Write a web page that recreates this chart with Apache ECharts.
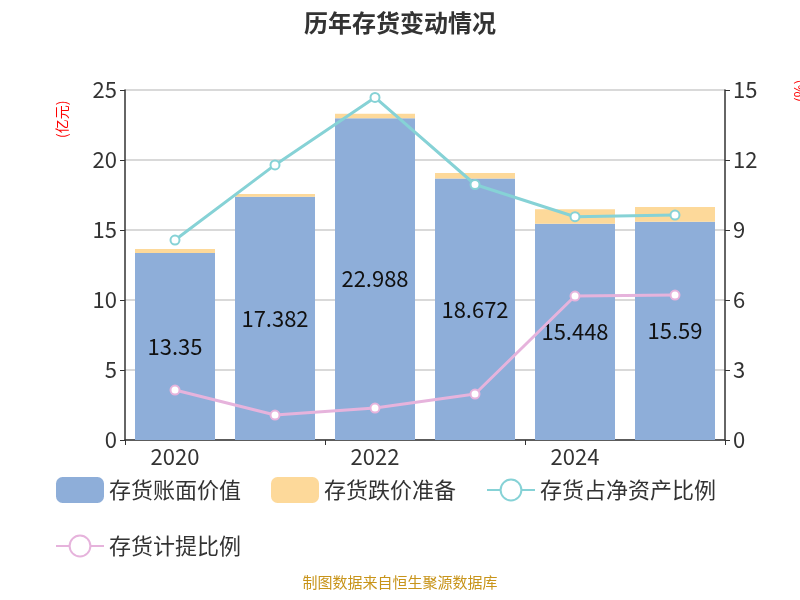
<!DOCTYPE html>
<html><head><meta charset="utf-8">
<script src="https://cdn.jsdelivr.net/npm/echarts@6/dist/echarts.min.js"></script>
<style>html,body{margin:0;padding:0}#c{width:800px;height:600px}</style>
</head><body><div id="c"></div>
<script>
const categories=['2020','2021','2022','2023','2024','2025H1'];
const bookValue=[13.35,17.382,22.988,18.672,15.448,15.59];
const reserve=[0.29,0.19,0.32,0.40,1.03,1.05];
const ratioNetAsset=[8.57,11.79,14.68,10.95,9.57,9.64];
const provisionRatio=[2.14,1.07,1.37,1.97,6.17,6.21];
const chart=echarts.init(document.getElementById('c'));
const ff='"Noto Sans CJK SC","Noto Sans",sans-serif';
chart.setOption({
 textStyle:{fontFamily:ff},
 title:{text:'历年存货变动情况',left:'center',top:6,textStyle:{fontSize:24,fontWeight:'bold',color:'#333',fontFamily:ff}},
 graphic:[{type:'text',left:'center',bottom:10,style:{text:'制图数据来自恒生聚源数据库',fill:'#c8941a',fontSize:15,fontFamily:ff}},
  {type:'text',x:55,y:138,rotation:Math.PI/2,style:{text:'(亿元)',fill:'red',fontSize:14,fontFamily:ff}},
  {type:'text',x:793,y:102,rotation:Math.PI/2,style:{text:'(%)',fill:'red',fontSize:14,fontFamily:ff}}],
 legend:{left:50,right:20,top:472,itemWidth:48,itemHeight:26,itemGap:30,textStyle:{fontSize:22,color:'#333'},
   data:['存货账面价值','存货跌价准备','存货占净资产比例','存货计提比例']},
 grid:{left:125,right:75,top:90,bottom:160},
 xAxis:{type:'category',data:categories,axisLine:{lineStyle:{color:'#333',width:1.5}},axisTick:{show:true,lineStyle:{color:'#333'}},
   axisLabel:{fontSize:22,color:'#333',margin:6}},
 yAxis:[{type:'value',min:0,max:25,interval:5,
   axisLine:{show:true,lineStyle:{color:'#333',width:1.5}},axisTick:{show:true},axisLabel:{fontSize:22,color:'#333'},
   splitLine:{lineStyle:{color:'#ccc',width:1.5}}},
  {type:'value',min:0,max:15,interval:3,
   axisLine:{show:true,lineStyle:{color:'#333',width:1.5}},axisTick:{show:true},axisLabel:{fontSize:22,color:'#333'},splitLine:{show:false}}],
 series:[
  {name:'存货账面价值',type:'bar',stack:'a',data:bookValue,barWidth:'80%',itemStyle:{color:'#8eaed9'},
   label:{show:true,position:'inside',fontSize:22,color:'#111'}},
  {name:'存货跌价准备',type:'bar',stack:'a',data:reserve,itemStyle:{color:'#fdd99a'}},
  {name:'存货占净资产比例',type:'line',yAxisIndex:1,data:ratioNetAsset,symbol:'circle',symbolSize:9,
   lineStyle:{color:'#86d2d6',width:3},itemStyle:{color:'#fff',borderColor:'#86d2d6',borderWidth:2}},
  {name:'存货计提比例',type:'line',yAxisIndex:1,data:provisionRatio,symbol:'circle',symbolSize:9,
   lineStyle:{color:'#e6b3dc',width:3},itemStyle:{color:'#fff',borderColor:'#e6b3dc',borderWidth:2}}
 ]
});
</script></body></html>
